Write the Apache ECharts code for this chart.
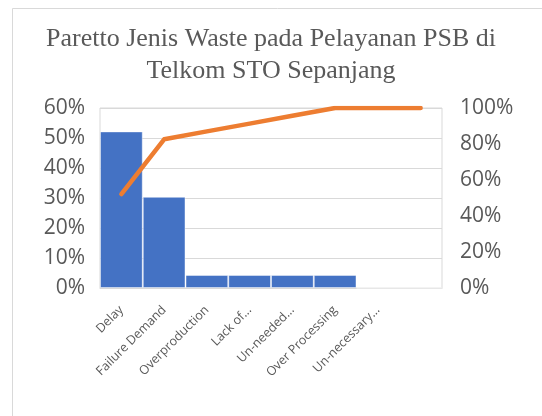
<!DOCTYPE html>
<html>
<head>
<meta charset="utf-8">
<script src="https://cdn.jsdelivr.net/npm/echarts@6/dist/echarts.min.js"></script>
<style>
html,body{margin:0;padding:0;background:#fff;}
#chart{width:542px;height:416px;}
</style>
</head>
<body>
<div id="chart"></div>
<script>
var titleText = 'Paretto Jenis Waste pada Pelayanan PSB di\nTelkom STO Sepanjang';
var categories = ['Delay', 'Failure Demand', 'Overproduction', 'Lack of...', 'Un-needed...', 'Over Processing', 'Un-necessary...', ''];
var barValues = [0.522, 0.304, 0.0435, 0.0435, 0.0435, 0.0435, 0, 0];
var cumulativeValues = [0.522, 0.826, 0.870, 0.913, 0.957, 1.0, 1.0, 1.0];
var leftTicks = { min: 0, max: 0.6, interval: 0.1 };
var rightTicks = { min: 0, max: 1.0, interval: 0.2 };

var pct = function (v) { return Math.round(v * 100) + '%'; };

var chart = echarts.init(document.getElementById('chart'), null, { renderer: 'canvas' });
chart.setOption({
  animation: false,
  backgroundColor: '#fff',
  graphic: [{
    type: 'rect', left: 10, top: 6, shape: { width: 530, height: 409 },
    style: { fill: 'none', stroke: '#d9d9d9', lineWidth: 1 }, z: -1
  }],
  title: {
    text: titleText,
    left: 'center', top: 18,
    textStyle: { fontFamily: 'Liberation Serif', fontSize: 26, fontWeight: 'normal', color: '#595959', lineHeight: 32 }
  },
  grid: { left: 100, right: 100, top: 108, bottom: 128, show: true, borderColor: '#d9d9d9', borderWidth: 1 },
  xAxis: {
    type: 'category',
    data: categories,
    axisLine: { show: true, lineStyle: { color: '#d9d9d9' } },
    axisTick: { show: false },
    axisLabel: { rotate: 45, interval: 0, margin: 20, fontFamily: 'Open Sans', fontSize: 12.5, color: '#595959' }
  },
  yAxis: [{
    type: 'value', min: leftTicks.min, max: leftTicks.max, interval: leftTicks.interval,
    axisLine: { show: false }, axisTick: { show: false },
    splitLine: { lineStyle: { color: '#d9d9d9' } },
    axisLabel: { formatter: pct, fontFamily: 'Open Sans', fontSize: 21, color: '#595959', margin: 15 }
  }, {
    type: 'value', min: rightTicks.min, max: rightTicks.max, interval: rightTicks.interval,
    axisLine: { show: false }, axisTick: { show: false },
    splitLine: { show: false },
    axisLabel: { formatter: pct, fontFamily: 'Open Sans', fontSize: 21, color: '#595959', margin: 18 }
  }],
  series: [{
    type: 'bar',
    data: barValues,
    barCategoryGap: 0,
    itemStyle: { color: '#4472C4', borderColor: 'rgba(255,255,255,0.45)', borderWidth: 1 }
  }, {
    type: 'line',
    yAxisIndex: 1,
    data: cumulativeValues,
    showSymbol: false,
    lineStyle: { color: '#ED7D31', width: 4.5, cap: 'round', join: 'round' },
    itemStyle: { color: '#ED7D31' }
  }]
});
</script>
</body>
</html>
